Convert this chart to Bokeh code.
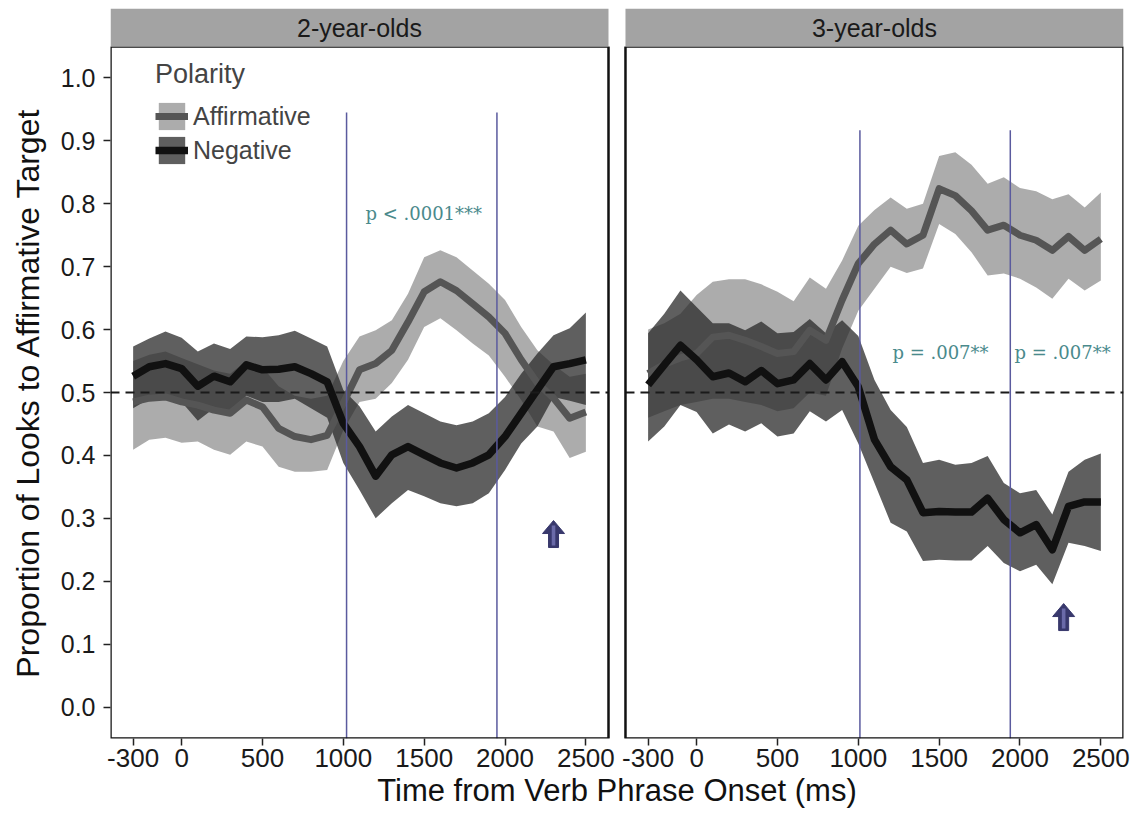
from bokeh.plotting import figure
from bokeh.layouts import column
from bokeh.models import Range1d, FixedTicker, NumeralTickFormatter, Legend, LegendItem
from bokeh.core.properties import value
from bokeh.embed import file_html
from bokeh.resources import INLINE

# ---------------- data ----------------
time_ms = [-300, -200, -100, 0, 100, 200, 300, 400, 500, 600, 700, 800, 900, 1000,
           1100, 1200, 1300, 1400, 1500, 1600, 1700, 1800, 1900, 2000, 2100, 2200,
           2300, 2400, 2500]

panel_names = ["2-year-olds", "3-year-olds"]

# 2-year-olds
aff_mean_2 = [0.485, 0.491, 0.493, 0.485, 0.480, 0.472, 0.467, 0.488, 0.477, 0.443, 0.430, 0.425, 0.432, 0.483,
              0.536, 0.546, 0.567, 0.612, 0.660, 0.676, 0.662, 0.641, 0.620, 0.594, 0.552, 0.515, 0.491, 0.459, 0.469]
aff_hi_2 = [0.550, 0.560, 0.565, 0.555, 0.545, 0.535, 0.530, 0.550, 0.540, 0.510, 0.495, 0.490, 0.495, 0.550,
            0.589, 0.599, 0.615, 0.657, 0.715, 0.726, 0.715, 0.694, 0.673, 0.647, 0.604, 0.567, 0.544, 0.525, 0.530]
aff_lo_2 = [0.409, 0.425, 0.428, 0.420, 0.422, 0.409, 0.401, 0.422, 0.414, 0.382, 0.374, 0.374, 0.377, 0.440,
            0.485, 0.490, 0.515, 0.552, 0.604, 0.618, 0.599, 0.578, 0.559, 0.525, 0.488, 0.446, 0.438, 0.396, 0.406]
neg_mean_2 = [0.526, 0.541, 0.546, 0.538, 0.510, 0.526, 0.517, 0.544, 0.536, 0.537, 0.541, 0.530, 0.517, 0.451,
              0.414, 0.367, 0.401, 0.414, 0.401, 0.388, 0.380, 0.388, 0.401, 0.430, 0.467, 0.504, 0.541, 0.546, 0.552]
neg_hi_2 = [0.573, 0.586, 0.597, 0.587, 0.565, 0.578, 0.569, 0.589, 0.588, 0.591, 0.598, 0.586, 0.573, 0.504,
            0.478, 0.438, 0.462, 0.480, 0.467, 0.454, 0.448, 0.454, 0.467, 0.493, 0.530, 0.562, 0.591, 0.602, 0.627]
neg_lo_2 = [0.475, 0.490, 0.495, 0.485, 0.455, 0.475, 0.465, 0.495, 0.485, 0.485, 0.490, 0.475, 0.460, 0.388,
            0.345, 0.300, 0.324, 0.345, 0.335, 0.324, 0.319, 0.324, 0.340, 0.377, 0.419, 0.446, 0.493, 0.487, 0.480]

# 3-year-olds
aff_mean_3 = [0.530, 0.545, 0.555, 0.562, 0.588, 0.591, 0.583, 0.573, 0.562, 0.565, 0.599, 0.583, 0.647, 0.705,
              0.736, 0.758, 0.736, 0.750, 0.824, 0.813, 0.789, 0.758, 0.766, 0.750, 0.742, 0.726, 0.748, 0.726, 0.744]
aff_hi_3 = [0.600, 0.610, 0.625, 0.655, 0.676, 0.680, 0.680, 0.672, 0.660, 0.645, 0.683, 0.665, 0.710, 0.765,
            0.790, 0.810, 0.792, 0.800, 0.876, 0.882, 0.862, 0.832, 0.842, 0.825, 0.820, 0.807, 0.815, 0.794, 0.818]
aff_lo_3 = [0.460, 0.470, 0.480, 0.485, 0.490, 0.490, 0.485, 0.480, 0.470, 0.475, 0.500, 0.495, 0.570, 0.630,
            0.665, 0.700, 0.690, 0.697, 0.768, 0.752, 0.723, 0.686, 0.689, 0.681, 0.667, 0.649, 0.681, 0.662, 0.678]
neg_mean_3 = [0.512, 0.544, 0.575, 0.552, 0.525, 0.531, 0.517, 0.535, 0.514, 0.520, 0.546, 0.520, 0.549, 0.509,
              0.425, 0.382, 0.361, 0.309, 0.311, 0.310, 0.310, 0.332, 0.298, 0.277, 0.290, 0.250, 0.319, 0.326, 0.326]
neg_hi_3 = [0.594, 0.625, 0.662, 0.636, 0.610, 0.610, 0.599, 0.613, 0.594, 0.596, 0.617, 0.594, 0.615, 0.590,
            0.520, 0.472, 0.445, 0.388, 0.393, 0.385, 0.388, 0.399, 0.356, 0.340, 0.345, 0.306, 0.374, 0.393, 0.403]
neg_lo_3 = [0.422, 0.446, 0.480, 0.469, 0.435, 0.449, 0.438, 0.451, 0.430, 0.435, 0.470, 0.454, 0.472, 0.419,
            0.356, 0.293, 0.279, 0.232, 0.234, 0.233, 0.233, 0.256, 0.229, 0.216, 0.226, 0.195, 0.261, 0.256, 0.248]

chance_level = 0.5
window_lines_2 = [1020, 1950]
window_lines_3 = [1010, 1940]
window_top = [0.945, 0.917]

p_labels_2 = ["p < .0001***"]
p_label_x_2 = [1137]
p_label_y_2 = [0.785]
p_labels_3 = ["p = .007**", "p = .007**"]
p_label_x_3 = [1211, 1966]
p_label_y_3 = [0.564, 0.564]

arrow_x = [2300, 2270]       # ms, one per panel
arrow_tip_y = [0.2965, 0.1645]

x_ticks = [-300, 0, 500, 1000, 1500, 2000, 2500]
y_ticks = [0.0, 0.1, 0.2, 0.3, 0.4, 0.5, 0.6, 0.7, 0.8, 0.9, 1.0]

# ---------------- layout constants ----------------
W, H = 1130, 819
LEFT, PANEL_W, GAP, RIGHT_M = 110, 498, 17, 7
STRIP_TOP, STRIP_H = 8, 38
PLOT_H, BOTTOM = 692, 81
X0, X1 = -440, 2640
Y0, Y1 = -0.05, 1.05
ms_per_px = (X1 - X0) / PANEL_W
v_per_px = (Y1 - Y0) / PLOT_H
frame_w = 2 * PANEL_W + GAP
off = int(round((PANEL_W + GAP) * ms_per_px))
XE = X0 + frame_w * ms_per_px
main_x = Range1d(X0, XE)
right_x = Range1d(X0 - off, XE - off)

FONT = value("Liberation Sans")
AFF_FILL, AFF_ALPHA = "#7f7f7f", 0.65
NEG_FILL, NEG_ALPHA = "#2a2a2a", 0.75
AFF_LINE, NEG_LINE = "#555555", "#111111"
WIN_COLOR = "#5a5a9e"
P_COLOR = "#4a8a8c"

# ---------------- strip figure ----------------
s = figure(width=W, height=STRIP_TOP + STRIP_H, x_range=main_x, y_range=Range1d(0, 1),
           x_axis_type=None, y_axis_type=None, toolbar_location=None, output_backend="svg",
           min_border_left=LEFT, min_border_right=RIGHT_M, min_border_top=STRIP_TOP,
           min_border_bottom=0, outline_line_color=None)
s.extra_x_ranges = {"right": right_x}
for name, rng in zip(panel_names, ["default", "right"]):
    s.quad(left=[X0], right=[X1], bottom=[0], top=[1], fill_color="#a3a3a3",
           line_color=None, x_range_name=rng)
    s.text(x=[(X0 + X1) / 2], y=[0.5], text=[name], text_align="center",
           text_baseline="middle", text_font=FONT, text_font_size="25px",
           text_color="#1a1a1a", x_range_name=rng)

# ---------------- main figure ----------------
p = figure(width=W, height=PLOT_H + BOTTOM, x_range=main_x, y_range=Range1d(Y0, Y1),
           toolbar_location=None, output_backend="svg",
           min_border_left=LEFT, min_border_right=RIGHT_M, min_border_top=0,
           min_border_bottom=BOTTOM, outline_line_color=None)
p.extra_x_ranges = {"right": right_x}
p.grid.visible = False

panels = [
    ("default", aff_mean_2, aff_lo_2, aff_hi_2, neg_mean_2, neg_lo_2, neg_hi_2,
     window_lines_2, window_top[0], p_labels_2, p_label_x_2, p_label_y_2, arrow_x[0], arrow_tip_y[0]),
    ("right", aff_mean_3, aff_lo_3, aff_hi_3, neg_mean_3, neg_lo_3, neg_hi_3,
     window_lines_3, window_top[1], p_labels_3, p_label_x_3, p_label_y_3, arrow_x[1], arrow_tip_y[1]),
]

legend_renderers = None
for (rng, am, alo, ahi, nm, nlo, nhi, wl, wtop, pl, plx, ply, ax, ay) in panels:
    ra = p.varea(x=time_ms, y1=alo, y2=ahi, fill_color=AFF_FILL, fill_alpha=AFF_ALPHA, x_range_name=rng)
    rn = p.varea(x=time_ms, y1=nlo, y2=nhi, fill_color=NEG_FILL, fill_alpha=NEG_ALPHA, x_range_name=rng)
    la = p.line(x=time_ms, y=am, line_color=AFF_LINE, line_width=7, line_join="round", x_range_name=rng)
    ln = p.line(x=time_ms, y=nm, line_color=NEG_LINE, line_width=7.5, line_join="round", x_range_name=rng)
    if legend_renderers is None:
        legend_renderers = (ra, la, rn, ln)
    # chance line
    p.segment(x0=[X0], x1=[X1], y0=[chance_level], y1=[chance_level], line_color="#1a1a1a",
              line_width=2, line_dash="9 6", x_range_name=rng)
    # analysis window lines
    p.segment(x0=wl, x1=wl, y0=[Y0] * len(wl), y1=[wtop] * len(wl), line_color=WIN_COLOR,
              line_width=1.5, x_range_name=rng)
    # p-value labels
    p.text(x=plx, y=ply, text=pl, text_font=value("DejaVu Serif"), text_font_size="18px",
           text_color=P_COLOR, text_align="left", text_baseline="middle", x_range_name=rng)
    # arrow (shape in pixel offsets from the tip)
    def pts(offs):
        return ([ax + dx * ms_per_px for dx, dy in offs], [ay - dy * v_per_px for dx, dy in offs])
    hx, hy = pts([(0, 0), (11, 13), (-11, 13)])
    sx, sy = pts([(-5, 12), (5, 12), (5, 27), (-5, 27)])
    ix, iy = pts([(-1.8, 5), (1.8, 5), (1.8, 25), (-1.8, 25)])
    p.patches(xs=[hx, sx], ys=[hy, sy], fill_color="#38386c", line_color="#38386c",
              line_width=1, x_range_name=rng)
    p.patch(x=ix, y=iy, fill_color="#6a6aa8", line_color=None, x_range_name=rng)
    # panel border
    p.quad(left=[X0], right=[X1], bottom=[Y0], top=[Y1], fill_color=None,
           line_color="#111111", line_width=2.5, x_range_name=rng)

# axes
all_ticks = list(x_ticks) + [t + off for t in x_ticks]
p.xaxis.ticker = FixedTicker(ticks=all_ticks)
overrides = {t: str(t) for t in x_ticks}
overrides.update({t + off: str(t) for t in x_ticks})
p.xaxis.major_label_overrides = overrides
p.yaxis.ticker = FixedTicker(ticks=y_ticks)
p.yaxis.formatter = NumeralTickFormatter(format="0.0")

for ax_ in (p.xaxis, p.yaxis):
    ax_.axis_line_color = None
    ax_.major_tick_line_color = "#222222"
    ax_.major_tick_line_width = 1.5
    ax_.major_tick_out = 7
    ax_.major_tick_in = 0
    ax_.minor_tick_line_color = None
    ax_.major_label_text_font = "Liberation Sans"
    ax_.major_label_text_color = "#1a1a1a"
    ax_.axis_label_text_font = "Liberation Sans"
    ax_.axis_label_text_font_style = "normal"
    ax_.axis_label_text_color = "#111111"

p.xaxis.major_label_text_font_size = "26px"
p.xaxis.axis_label_text_font_size = "31px"
p.xaxis.major_label_standoff = 3
p.xaxis.axis_label_standoff = 3
p.xaxis.axis_label = "Time from Verb Phrase Onset (ms)"
p.yaxis.major_label_text_font_size = "25px"
p.yaxis.axis_label_text_font_size = "32px"
p.yaxis.major_label_standoff = 8
p.yaxis.axis_label_standoff = 12
p.yaxis.axis_label = "Proportion of Looks to Affirmative Target"

ra, la, rn, ln = legend_renderers
legend = Legend(items=[LegendItem(label="Affirmative", renderers=[ra, la]),
                       LegendItem(label="Negative", renderers=[rn, ln])],
                location=(45, 571), title="Polarity")
legend.glyph_width = 33
legend.glyph_height = 34
legend.label_height = 34
legend.spacing = 0
legend.padding = 4
legend.margin = 0
legend.label_standoff = 5
legend.title_standoff = 9
legend.background_fill_alpha = 0
legend.border_line_color = None
legend.label_text_font = "Liberation Sans"
legend.label_text_font_size = "25px"
legend.title_text_font = "Liberation Sans"
legend.title_text_font_size = "27px"
legend.title_text_font_style = "normal"
p.add_layout(legend)

layout = column(s, p, spacing=0)
open("out.html", "w").write(file_html(layout, INLINE))
